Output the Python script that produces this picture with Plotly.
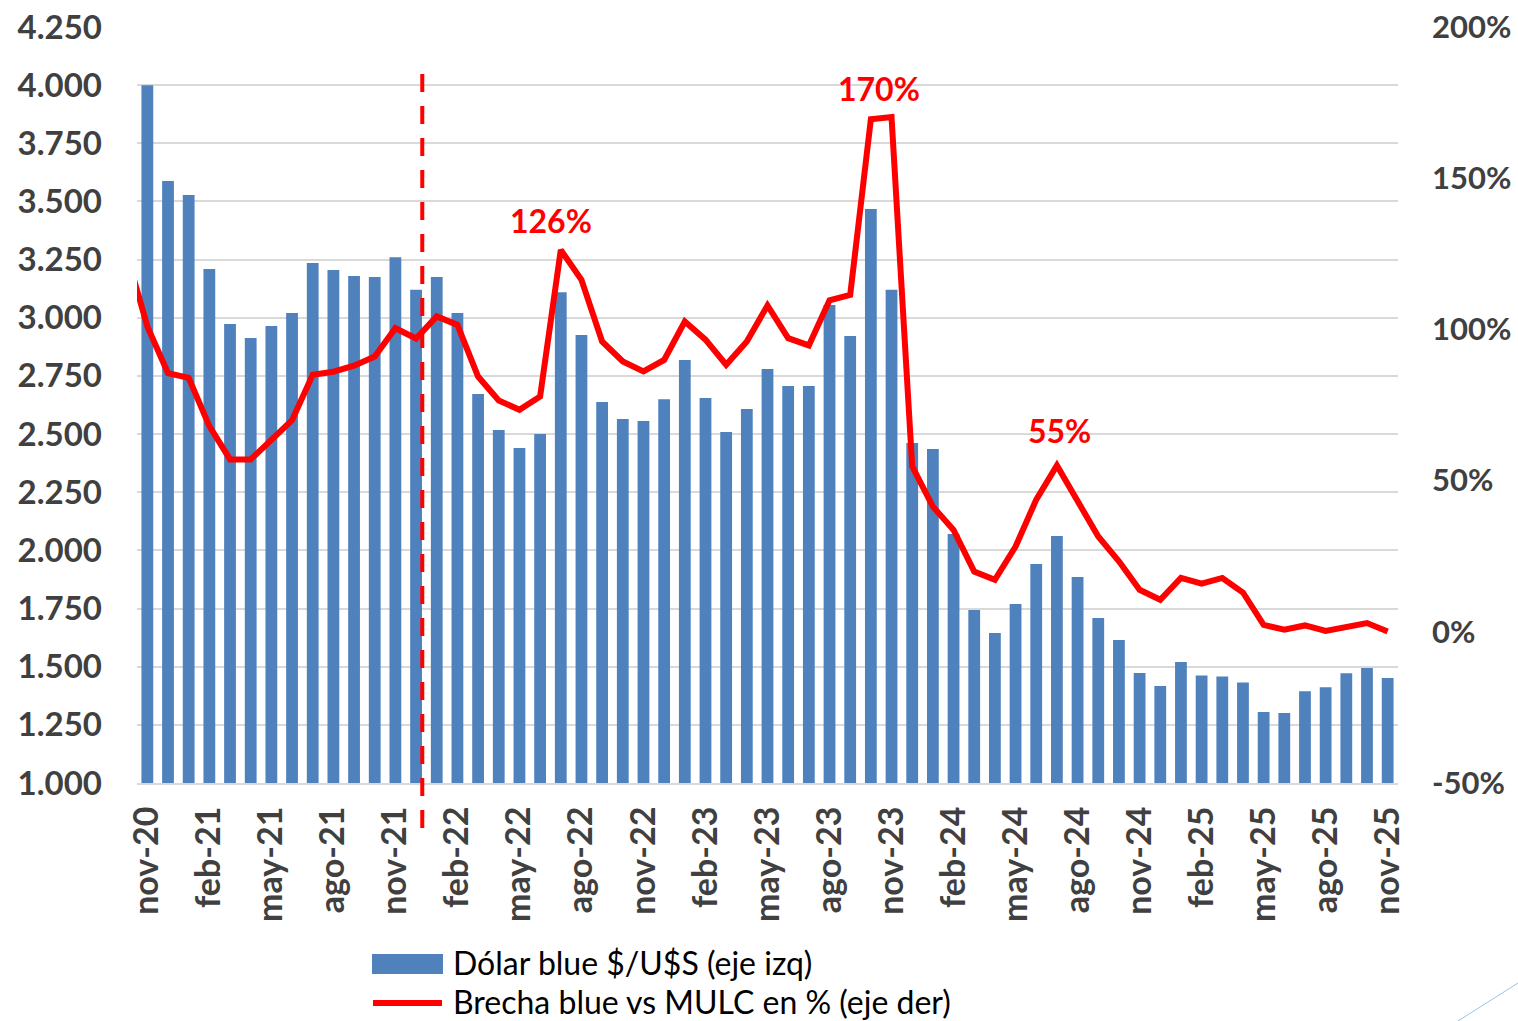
import plotly.graph_objects as go

# ---------------- data ----------------
months = ["nov-20", "dic-20",
          "ene-21", "feb-21", "mar-21", "abr-21", "may-21", "jun-21", "jul-21", "ago-21", "sep-21", "oct-21", "nov-21", "dic-21",
          "ene-22", "feb-22", "mar-22", "abr-22", "may-22", "jun-22", "jul-22", "ago-22", "sep-22", "oct-22", "nov-22", "dic-22",
          "ene-23", "feb-23", "mar-23", "abr-23", "may-23", "jun-23", "jul-23", "ago-23", "sep-23", "oct-23", "nov-23", "dic-23",
          "ene-24", "feb-24", "mar-24", "abr-24", "may-24", "jun-24", "jul-24", "ago-24", "sep-24", "oct-24", "nov-24", "dic-24",
          "ene-25", "feb-25", "mar-25", "abr-25", "may-25", "jun-25", "jul-25", "ago-25", "sep-25", "oct-25", "nov-25"]

dolar_blue = [4000, 3588, 3528, 3210, 2973, 2913, 2965, 3020, 3235, 3205,
              3180, 3175, 3260, 3120, 3175, 3020, 2672, 2517, 2440, 2500,
              3110, 2926, 2638, 2565, 2556, 2650, 2818, 2655, 2509, 2608,
              2780, 2707, 2707, 3055, 2922, 3468, 3120, 2462, 2436, 2070,
              1744, 1645, 1770, 1941, 2062, 1886, 1709, 1615, 1473, 1417,
              1520, 1462, 1458, 1432, 1305, 1301, 1394, 1412, 1472, 1494,
              1451]

# brecha (%) ; first value = oct-20, only partially visible at the left edge
brecha_prev_month = 125
brecha = [101, 85.5, 84, 68, 57, 57, 63.5, 70, 85, 86,
          88, 91, 100.4, 97, 104.3, 101.5, 84.4, 76.5, 73.4, 77.8,
          126.3, 116.4, 96, 89.4, 86.1, 89.9, 102.6, 96.6, 88.3, 96,
          107.9, 97.1, 94.7, 109.6, 111.4, 169.5, 170.2, 54.7, 41.4, 33.7,
          19.9, 17.2, 28.2, 43.7, 55, 43.7, 31.5, 23.3, 13.9, 10.6,
          17.8, 15.9, 17.8, 13, 2.3, 0.7, 2.1, 0.3, 1.4, 2.9,
          0.1]

left_ticks = [1000, 1250, 1500, 1750, 2000, 2250, 2500, 2750, 3000, 3250, 3500, 3750, 4000, 4250]
left_ticktext = ["1.000", "1.250", "1.500", "1.750", "2.000", "2.250", "2.500", "2.750",
                 "3.000", "3.250", "3.500", "3.750", "4.000", "4.250"]
right_ticks = [-50, 0, 50, 100, 150, 200]
right_ticktext = ["-50%", "0%", "50%", "100%", "150%", "200%"]

peak_labels = ["126%", "170%", "55%"]
peak_months = ["jul-22", "nov-23", "jul-24"]

# ---------------- layout constants ----------------
W, H = 1518, 1021
ML, MR, MT, MB = 137, 120, 27, 238
PW, PH = W - ML - MR, H - MT - MB


def px_x(px):
    return (px - ML) / PW


def px_y(py):
    return (H - MB - py) / PH


x_idx = list(range(len(months)))
line_x = [-1] + x_idx
line_y = [brecha_prev_month] + brecha

BLUE = "#4F81BD"
RED = "#FF0000"
TICK = "#404040"
GRID = "#D9D9D9"
FONT = "Lato"

fig = go.Figure()
fig.add_trace(go.Bar(x=x_idx, y=dolar_blue, name="Dólar blue $/U$S (eje izq)",
                     marker=dict(color=BLUE, line=dict(width=0)), yaxis="y"))
fig.add_trace(go.Scatter(x=line_x, y=line_y, name="Brecha blue vs MULC en % (eje der)",
                         mode="lines", line=dict(color=RED, width=6), yaxis="y2"))

annotations = []
shifts = [(-10, 29), (-13, 29), (3, 35)]
for lab, m, (dx, dy) in zip(peak_labels, peak_months, shifts):
    i = months.index(m)
    annotations.append(dict(x=i, y=brecha[i], xref="x", yref="y2", text=lab, showarrow=False,
                            xshift=dx, yshift=dy,
                            font=dict(family=FONT, size=32, color=RED, weight="bold")))

# manual legend texts
annotations.append(dict(x=px_x(452), y=px_y(962), xref="paper", yref="paper", xanchor="left",
                        yanchor="middle", showarrow=False, text="Dólar blue $/U$S (eje izq)",
                        borderpad=0, font=dict(family=FONT, size=32, color="#000000")))
annotations.append(dict(x=px_x(452), y=px_y(1001), xref="paper", yref="paper", xanchor="left",
                        yanchor="middle", showarrow=False, text="Brecha blue vs MULC en % (eje der)",
                        borderpad=0, font=dict(family=FONT, size=32, color="#000000")))

shapes = [
    # dashed vertical separator
    dict(type="line", xref="x", yref="paper", x0=13.3, x1=13.3, y0=px_y(828), y1=px_y(73),
         line=dict(color=RED, width=4, dash="18px,14px")),
    # legend symbols
    dict(type="rect", xref="paper", yref="paper", x0=px_x(372), x1=px_x(443), y0=px_y(974), y1=px_y(954),
         fillcolor=BLUE, line=dict(width=0)),
    dict(type="line", xref="paper", yref="paper", x0=px_x(373), x1=px_x(442), y0=px_y(1003), y1=px_y(1003),
         line=dict(color=RED, width=6)),
    # decorative corner line
    dict(type="line", xref="paper", yref="paper", x0=px_x(1458), x1=px_x(1518), y0=px_y(1021), y1=px_y(983),
         line=dict(color="#9DC3E6", width=1)),
]

fig.update_layout(
    width=W, height=H,
    margin=dict(l=ML, r=MR, t=MT, b=MB, pad=0, autoexpand=False),
    paper_bgcolor="white", plot_bgcolor="white",
    showlegend=False,
    bargap=0.43,
    font=dict(family=FONT, color=TICK),
    xaxis=dict(range=[-0.5, 60.5], tickmode="array", tickvals=x_idx[::3], ticktext=months[::3],
               tickangle=-90, tickfont=dict(family=FONT, size=34, color=TICK, weight="bold"),
               showgrid=False, showline=True, linecolor=GRID, linewidth=2, ticks="",
               ticklabelstandoff=8, zeroline=False, automargin=False),
    yaxis=dict(range=[1000, 4250], tickmode="array", tickvals=left_ticks, ticktext=left_ticktext,
               tickfont=dict(family=FONT, size=33, color=TICK, weight="bold"),
               showgrid=True, gridcolor=GRID, gridwidth=2, zeroline=False, ticks="",
               ticklabelstandoff=34, showline=False, automargin=False),
    yaxis2=dict(range=[-50, 200], overlaying="y", side="right", tickmode="array",
                tickvals=right_ticks, ticktext=right_ticktext,
                tickfont=dict(family=FONT, size=31, color=TICK, weight="bold"),
                showgrid=False, zeroline=False, ticks="", ticklabelstandoff=33, showline=False,
                automargin=False),
    annotations=annotations,
    shapes=shapes,
)

fig.write_html("out.html", config={"displayModeBar": False},
               post_script="document.body.style.margin='0';document.body.style.overflow='hidden';")
